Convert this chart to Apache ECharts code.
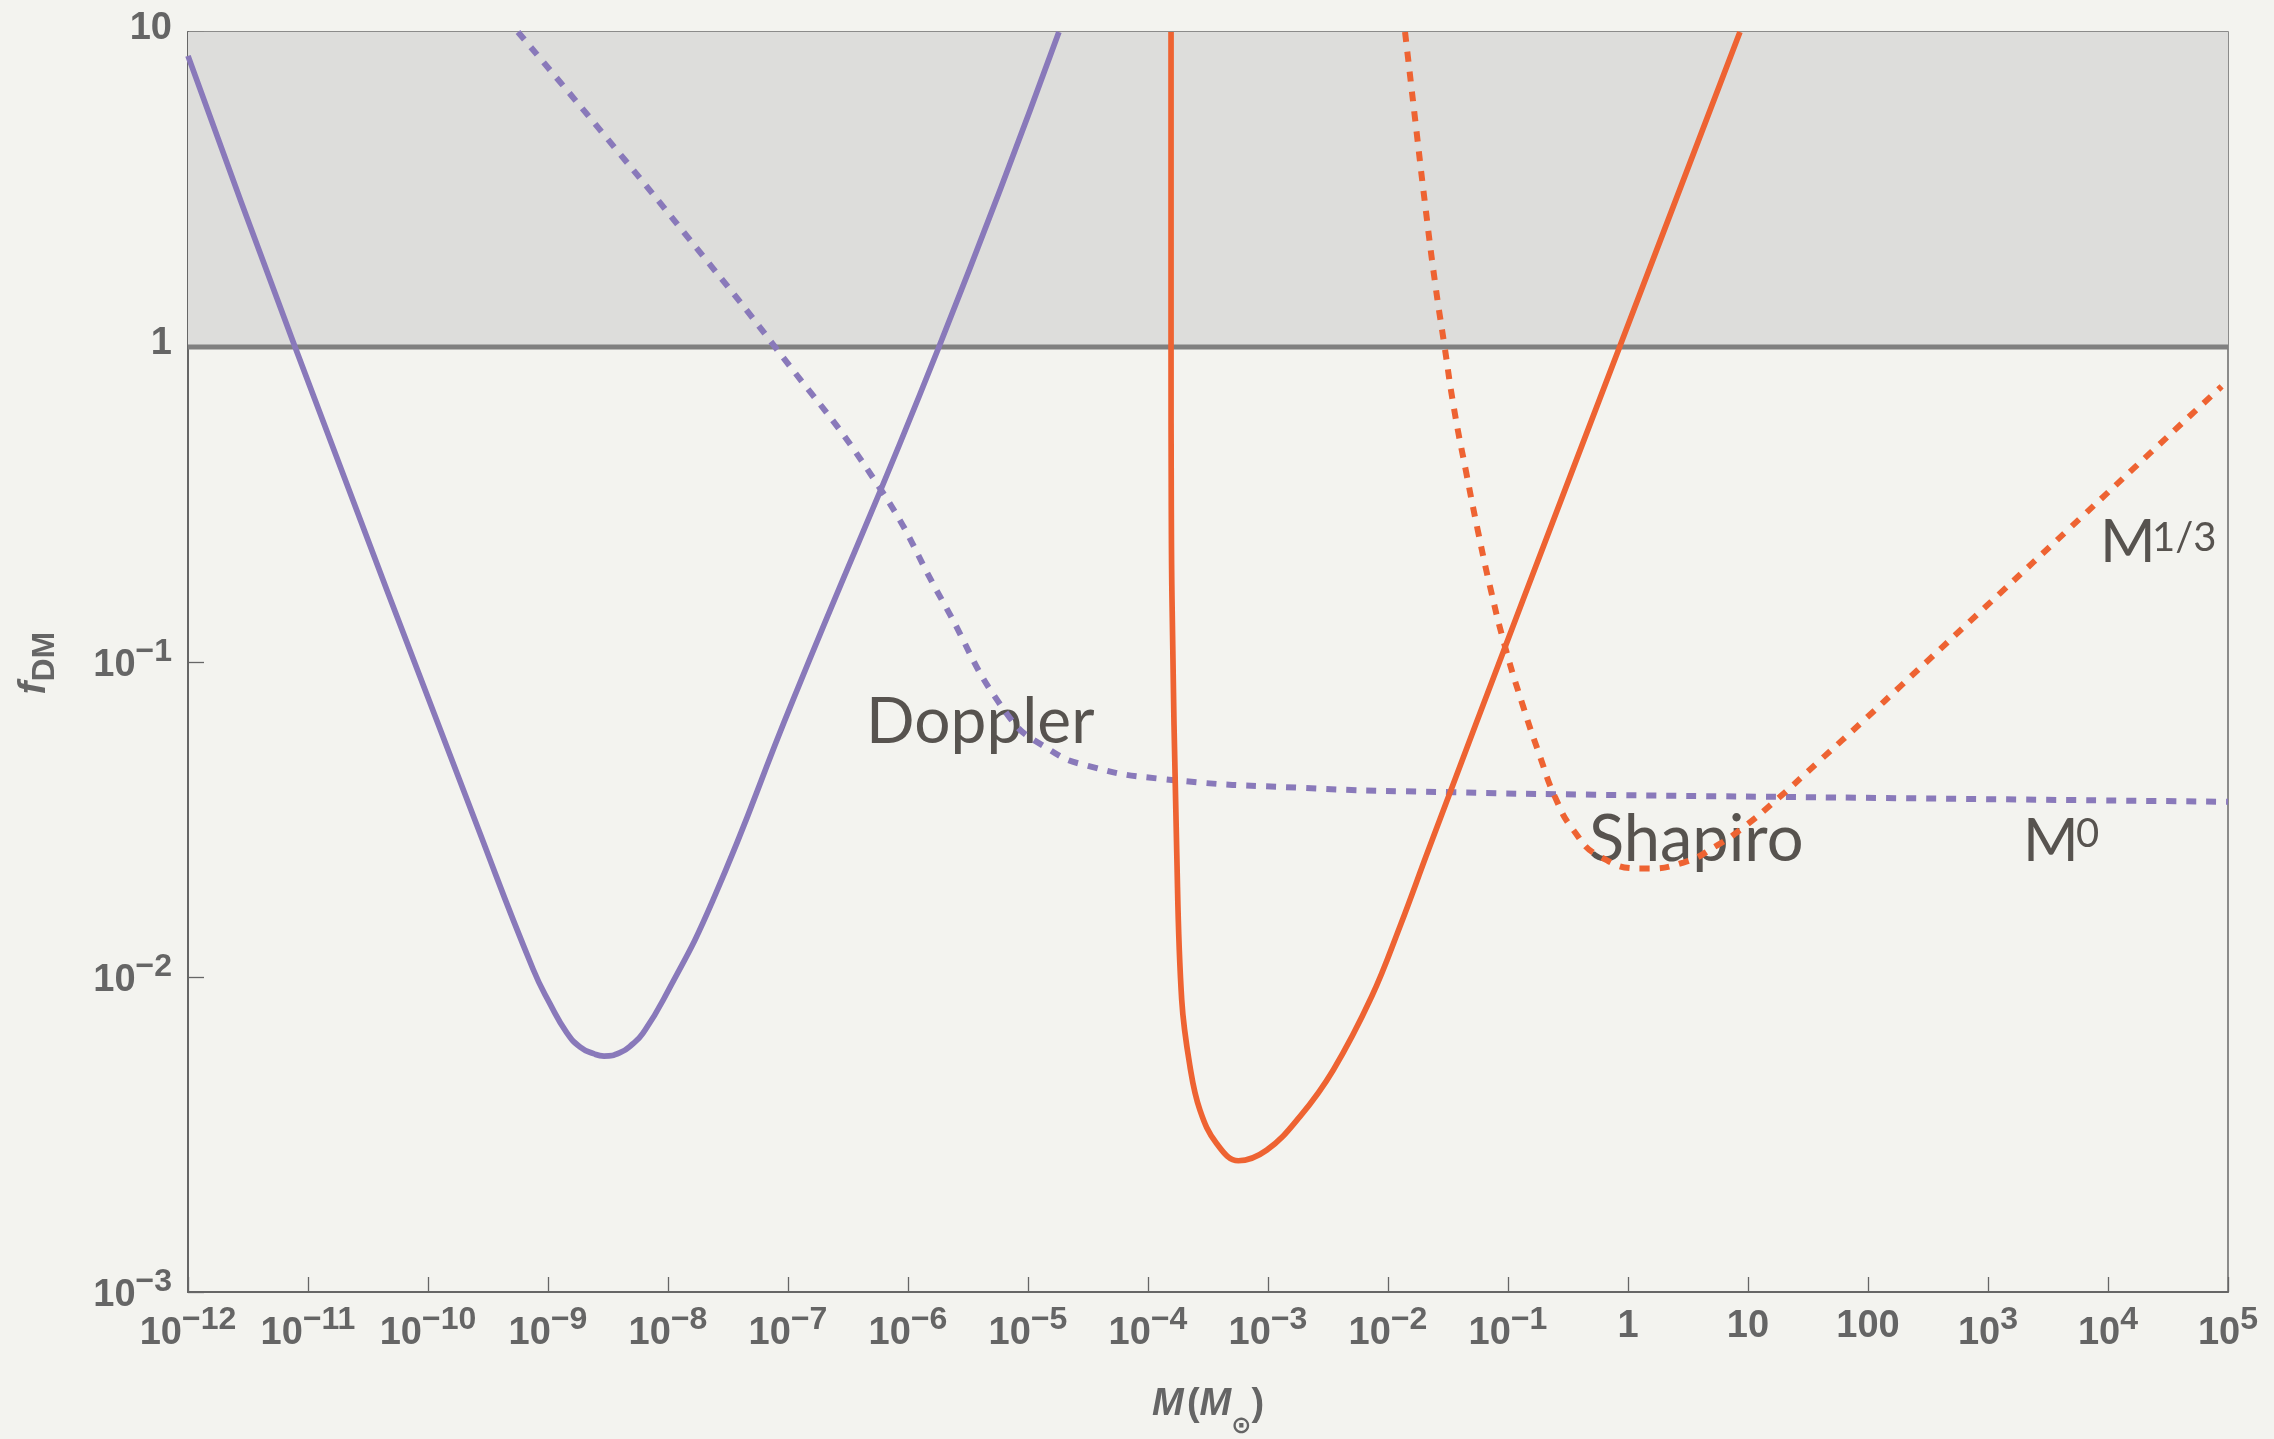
<!DOCTYPE html>
<html>
<head>
<meta charset="utf-8">
<script src="https://cdn.jsdelivr.net/npm/echarts@6/dist/echarts.min.js"></script>
<style>
  html, body { margin: 0; padding: 0; background: #f3f3ef; }
  #chart { width: 2274px; height: 1439px; }
</style>
</head>
<body>
<div id="chart"></div>
<script>
// Doppler constraint, full curve (solid): mass M in solar masses, f_DM
const dopplerSolidM = [1e-12, 7.8e-12, 2.71e-10, 7.5e-10, 1.04e-9, 1.44e-9, 1.85e-9, 2.4e-9, 2.93e-9, 3.98e-9, 5.1e-9, 6.19e-9, 9.12e-9, 2.37e-8, 1.1e-7, 1.81e-6, 1.81e-5];
const dopplerSolidF = [8.4, 1.0, 0.0286, 0.0106, 0.00822, 0.00664, 0.0060, 0.00571, 0.00561, 0.00575, 0.00614, 0.00664, 0.00845, 0.01754, 0.0757, 1.0, 10];

// Doppler constraint, M^0 asymptote (dashed)
const dopplerDashM = [5.62e-10, 3.1e-9, 1.41e-8, 7.8e-8, 5.73e-7, 1.96e-6, 6.68e-6, 1.52e-5, 3.16e-5, 1.26e-4, 2.04e-3, 0.0331, 0.531, 138, 1e5];
const dopplerDashF = [10, 4.6, 2.27, 1.0, 0.36, 0.155, 0.0684, 0.0526, 0.0468, 0.0426, 0.0398, 0.0386, 0.0379, 0.037, 0.036];

// Shapiro constraint, full curve (solid)
const shapiroSolidM = [1.556e-4, 1.556e-4, 1.563e-4, 1.585e-4, 1.734e-4, 1.91e-4, 2.24e-4, 2.71e-4, 3.73e-4, 5.66e-4, 9.75e-4, 1.85e-3, 3.5e-3, 7.31e-3, 0.0126, 0.0217, 0.133, 0.851, 8.57];
const shapiroSolidF = [10, 1.0, 0.327, 0.158, 0.0253, 0.00845, 0.00519, 0.00378, 0.00296, 0.00261, 0.00282, 0.00361, 0.00507, 0.00867, 0.0145, 0.0253, 0.157, 1.0, 10];

// Shapiro constraint, M^{1/3} asymptote (dashed)
const shapiroDashM = [0.01387, 0.01698, 0.02042, 0.02455, 0.02965, 0.03548, 0.04467, 0.05623, 0.07079, 0.0944, 0.134, 0.185, 0.2466, 0.35, 0.585, 1.343, 2.89, 5.48, 9.14, 17.34, 37.3, 97.5, 184.9, 1259, 4529, 22387, 88500];
const shapiroDashF = [10, 5.13, 2.818, 1.622, 1.0, 0.638, 0.4027, 0.26, 0.1738, 0.112, 0.0721, 0.0501, 0.0373, 0.0293, 0.0241, 0.0221, 0.02307, 0.02612, 0.02985, 0.03656, 0.04764, 0.06653, 0.08356, 0.1652, 0.2606, 0.4603, 0.7499];

// Region excluded by f_DM > 1
const excludedBand = [1, 10];

// Axis ticks and their labels ('^' separates the exponent)
const xTickValues = [1e-12, 1e-11, 1e-10, 1e-9, 1e-8, 1e-7, 1e-6, 1e-5, 1e-4, 1e-3, 1e-2, 1e-1, 1, 10, 100, 1e3, 1e4, 1e5];
const xTickLabels = ['10^−12', '10^−11', '10^−10', '10^−9', '10^−8', '10^−7', '10^−6', '10^−5', '10^−4', '10^−3', '10^−2', '10^−1', '1', '10', '100', '10^3', '10^4', '10^5'];
const yTickValues = [1e-3, 1e-2, 1e-1, 1, 10];
const yTickLabels = ['10^−3', '10^−2', '10^−1', '1', '10'];

const axisFont = '"Liberation Sans", Arial, Helvetica, sans-serif';
const axisColor = '#656565';
const noteFont = 'Lato, "Open Sans", sans-serif';
const noteColor = '#57534f';
const purple = '#8979ba';
const orange = '#ee6332';

function pairs(m, f) { return m.map((v, i) => [v, f[i]]); }

function tickText(values, labels, v) {
  const e = Math.round(Math.log10(v));
  const i = values.findIndex(t => Math.round(Math.log10(t)) === e);
  if (i < 0) return '';
  const parts = labels[i].split('^');
  return parts.length > 1 ? '{b|' + parts[0] + '}{s|' + parts[1] + '}' : '{p|' + parts[0] + '}';
}

const tickRich = {
  p: { fontFamily: axisFont, fontWeight: 'bold', fontSize: 38, color: axisColor },
  b: { fontFamily: axisFont, fontWeight: 'bold', fontSize: 38, color: axisColor, padding: [14, 0, 0, 0] },
  s: { fontFamily: axisFont, fontWeight: 'bold', fontSize: 32, color: axisColor, padding: [0, 0, 14, 0] }
};

const chart = echarts.init(document.getElementById('chart'), null, { renderer: 'canvas' });

const option = {
  animation: false,
  backgroundColor: 'transparent',
  grid: {
    left: 188, right: 46, top: 32, bottom: 147,
    show: true, borderColor: '#6a6a6a', borderWidth: 1.5, backgroundColor: 'transparent'
  },
  xAxis: {
    type: 'log', logBase: 10, min: 1e-12, max: 1e5, splitNumber: 17,
    axisLine: { show: true, onZero: false, lineStyle: { color: '#666', width: 2 } },
    axisTick: { show: true, inside: true, length: 15, customValues: xTickValues, lineStyle: { color: '#666', width: 1.3 } },
    minorTick: { show: false },
    splitLine: { show: false },
    axisLabel: {
      show: true, margin: 35, verticalAlign: 'middle', hideOverlap: false,
      customValues: xTickValues,
      formatter: v => tickText(xTickValues, xTickLabels, v),
      rich: tickRich
    }
  },
  yAxis: {
    type: 'log', logBase: 10, min: 1e-3, max: 10, splitNumber: 4,
    axisLine: { show: true, onZero: false, lineStyle: { color: '#666', width: 2 } },
    axisTick: { show: true, inside: true, length: 16, customValues: yTickValues, lineStyle: { color: '#666', width: 1.3 } },
    minorTick: { show: false },
    splitLine: { show: false },
    axisLabel: {
      show: true, margin: 16, padding: [0, 0, 6, 0], hideOverlap: false,
      customValues: yTickValues,
      formatter: v => tickText(yTickValues, yTickLabels, v),
      rich: tickRich
    }
  },
  series: [
    {
      name: 'f = 1', type: 'line', z: 1,
      data: [[1e-12, excludedBand[0]], [1e5, excludedBand[0]]],
      symbol: 'none', silent: true,
      lineStyle: { color: '#808080', width: 5 },
      markArea: {
        silent: true,
        itemStyle: { color: '#dddddb' },
        data: [[{ yAxis: excludedBand[0] }, { yAxis: excludedBand[1] }]]
      }
    },
    {
      name: 'Doppler', type: 'line', z: 3, data: pairs(dopplerSolidM, dopplerSolidF),
      symbol: 'none', smooth: 0.5,
      lineStyle: { color: purple, width: 5.7 }
    },
    {
      name: 'Doppler M^0', type: 'line', z: 3, data: pairs(dopplerDashM, dopplerDashF),
      symbol: 'none', smooth: 0.5,
      lineStyle: { color: purple, width: 6, type: [10, 10], cap: 'butt' }
    },
    {
      name: 'Shapiro', type: 'line', z: 3, data: pairs(shapiroSolidM, shapiroSolidF),
      symbol: 'none', smooth: 0.4,
      lineStyle: { color: orange, width: 5.7 }
    },
    {
      name: 'Shapiro M^1/3', type: 'line', z: 3, data: pairs(shapiroDashM, shapiroDashF),
      symbol: 'none', smooth: 0.5,
      lineStyle: { color: orange, width: 6, type: [10, 10], cap: 'butt' }
    }
  ],
  graphic: [
    // axis titles
    {
      type: 'text', x: 1208, y: 1416, silent: true,
      style: {
        text: '{i|M} {n|(}{i|M}{sun|⊙}{n|)}',
        align: 'center', verticalAlign: 'middle',
        rich: {
          i: { fontFamily: axisFont, fontWeight: 'bold', fontStyle: 'italic', fontSize: 38, fill: axisColor, padding: [0, 0, 22, 0] },
          n: { fontFamily: axisFont, fontWeight: 'bold', fontSize: 38, fill: axisColor, padding: [0, 0, 22, 0] },
          sun: { fontFamily: '"DejaVu Sans", sans-serif', fontWeight: 'bold', fontSize: 24, fill: axisColor, padding: [22, 0, 0, 0] }
        }
      }
    },
    {
      type: 'text', x: 40, y: 663, rotation: Math.PI / 2, silent: true,
      style: {
        text: '{f|f}{d|DM}',
        align: 'center', verticalAlign: 'middle',
        rich: {
          f: { fontFamily: axisFont, fontWeight: 'bold', fontStyle: 'italic', fontSize: 38, fill: axisColor, padding: [0, 0, 11, 0] },
          d: { fontFamily: axisFont, fontWeight: 'bold', fontSize: 32, fill: axisColor, padding: [11, 0, 0, 0] }
        }
      }
    },
    // curve annotations
    { type: 'text', x: 866, y: 722, silent: true, style: { text: 'Doppler', font: '64px ' + noteFont, fill: noteColor, align: 'left', verticalAlign: 'middle' } },
    { type: 'text', x: 1589, y: 840, silent: true, style: { text: 'Shapiro', font: '65px ' + noteFont, fill: noteColor, align: 'left', verticalAlign: 'middle' } },
    { type: 'text', x: 2100, y: 543, silent: true, style: { text: 'M', font: '60px ' + noteFont, fill: noteColor, align: 'left', verticalAlign: 'middle' } },
    { type: 'text', x: 2152, y: 538, silent: true, style: { text: '1/3', font: '40px ' + noteFont, fill: noteColor, align: 'left', verticalAlign: 'middle' } },
    { type: 'text', x: 2023, y: 842, silent: true, style: { text: 'M', font: '60px ' + noteFont, fill: noteColor, align: 'left', verticalAlign: 'middle' } },
    { type: 'text', x: 2076, y: 834, silent: true, style: { text: '0', font: '40px ' + noteFont, fill: noteColor, align: 'left', verticalAlign: 'middle' } }
  ]
};

chart.setOption(option);
</script>
</body>
</html>
